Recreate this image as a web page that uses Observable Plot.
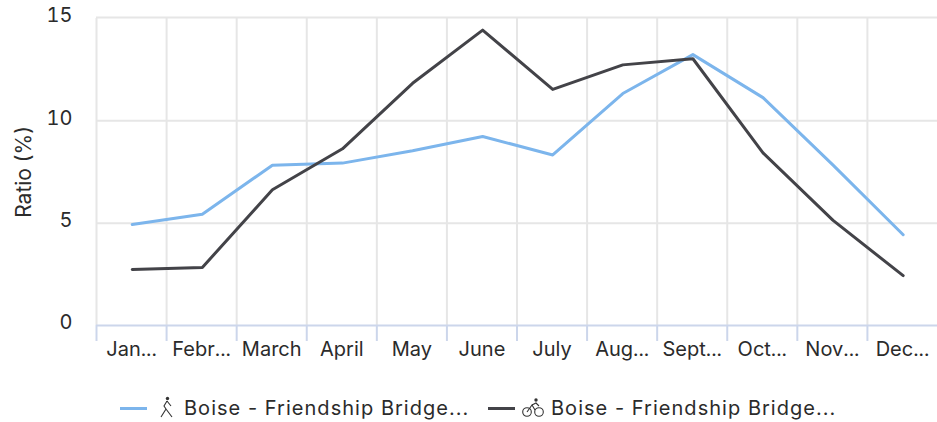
<!DOCTYPE html>
<html>
<head>
<meta charset="utf-8">
<script src="https://cdn.jsdelivr.net/npm/d3@7"></script>
<script src="https://cdn.jsdelivr.net/npm/@observablehq/plot@0.6"></script>
<style>
html,body{margin:0;padding:0;background:#fff;overflow:hidden}
body{width:937px;height:422px;font-family:Inter,"Open Sans",sans-serif;color:#2b2b2b}
#legend{position:absolute;left:0;top:393px;height:30px;font-size:20px;letter-spacing:1.03px;white-space:nowrap}
.it{position:absolute;top:0;height:30px;line-height:30px;display:block}
.sw{position:absolute;top:14px;width:27px;height:3px}
svg.ic{position:absolute;top:2px}
</style>
</head>
<body>
<div id="chart"></div>
<div id="legend">
  <span class="sw" style="left:120px;background:#7cb5ec"></span>
  <svg class="ic" style="left:158px" width="18" height="24" viewBox="0 0 18 24" fill="none" stroke="#333" stroke-width="1.1"><circle cx="9.5" cy="3.5" r="1.7" fill="#333" stroke="none"/><path d="M9 6 L6 11 L8 14 L3 22 M8 14 L14 22 M9 6 L13 11"/></svg>
  <span class="it lb" style="left:184px">Boise - Friendship Bridge...</span>
  <span class="sw" style="left:488px;background:#434348"></span>
  <svg class="ic" style="left:521px" width="25" height="24" viewBox="0 0 25 24" fill="none" stroke="#333" stroke-width="1.1"><circle cx="6" cy="17" r="4.3"/><circle cx="18" cy="17" r="4.3"/><circle cx="15" cy="5" r="1.7" fill="#333" stroke="none"/><path d="M6 17 L11 10 L14 15 M11 10 L15 8 L18 11"/></svg>
  <span class="it lb" style="left:551px">Boise - Friendship Bridge...</span>
</div>
<script>
const months = ["Jan...","Febr...","March","April","May","June","July","Aug...","Sept...","Oct...","Nov...","Dec..."];
const walking = [4.9,5.4,7.8,7.9,8.5,9.2,8.3,11.3,13.2,11.1,7.8,4.4];
const cycling = [2.7,2.8,6.6,8.6,11.8,14.4,11.5,12.7,13.0,8.4,5.1,2.4];
const yTicks = [0,5,10,15];
const edges = d3.range(months.length);
const centers = months.map((_, i) => i + 0.5);
const toRows = vals => vals.map((v, i) => ({x: i + 0.5, y: v}));

const chart = Plot.plot({
  width: 937,
  height: 375,
  marginLeft: 96,
  marginRight: 0,
  marginTop: 18,
  marginBottom: 50,
  style: {fontFamily: "Inter, 'Open Sans', sans-serif", fontSize: "20px", color: "#2b2b2b", background: "#fff", overflow: "visible"},
  x: {type: "linear", domain: [0, 12]},
  y: {domain: [0, 15]},
  marks: [
    Plot.ruleY([5, 10], {stroke: "#e6e6e6", strokeWidth: 2}),
    Plot.ruleY([15], {stroke: "#e6e6e6", strokeWidth: 2, dy: -1}),
    Plot.ruleX(edges, {y1: 0, y2: 15, stroke: "#e6e6e6", strokeWidth: 2}),
    Plot.ruleX(edges, {y1: -0.78, y2: 0, stroke: "#ccd6eb", strokeWidth: 2}),
    Plot.ruleY([0], {stroke: "#ccd6eb", strokeWidth: 2}),
    Plot.axisY(yTicks, {tickSize: 0, tickPadding: 24, label: null, dy: -2.5, fontSize: 20, letterSpacing: "0.8px"}),
    Plot.axisX(centers, {tickSize: 0, tickPadding: 16, label: null, tickFormat: d => months[d - 0.5], fontSize: 20, letterSpacing: "1px"}),
    Plot.text(["Ratio (%)"], {frameAnchor: "left", textAnchor: "middle", dx: -72, rotate: -90, fontSize: 21, letterSpacing: "1.6px", fill: "#2b2b2b"}),
    Plot.line(toRows(walking), {x: "x", y: "y", stroke: "#7cb5ec", strokeWidth: 3, curve: "linear", dx: 0.7, dy: -0.7}),
    Plot.line(toRows(cycling), {x: "x", y: "y", stroke: "#434348", strokeWidth: 3, curve: "linear", dx: 0.7, dy: -0.7})
  ]
});
document.getElementById("chart").append(chart);
</script>
</body>
</html>
